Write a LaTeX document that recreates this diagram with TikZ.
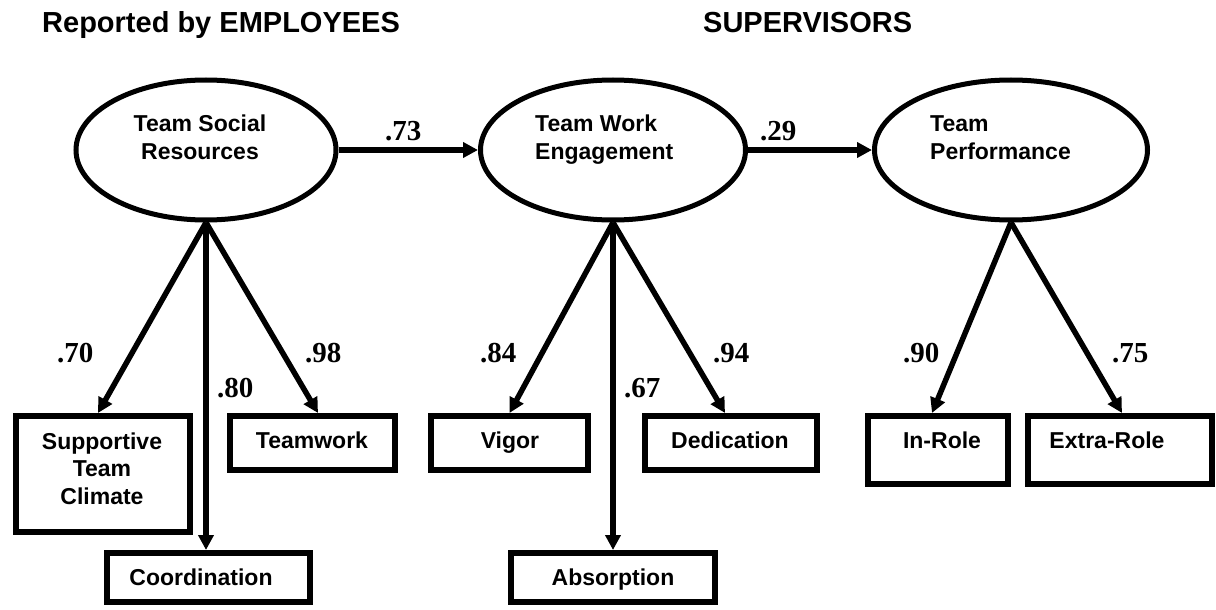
\documentclass[tikz,border=0pt]{standalone}
\usepackage{fontspec}
\setmainfont{Liberation Sans}
\newfontfamily\coeffont{Liberation Serif}
\usetikzlibrary{arrows.meta,shapes.geometric}

\begin{document}
\begin{tikzpicture}[x=1pt,y=-1pt,
  latent/.style={ellipse, draw, line width=5pt, inner sep=0pt, minimum height=140pt},
  indicator/.style={rectangle, draw, line width=6pt, inner sep=0pt},
  heading/.style={font=\fontsize{29}{34}\selectfont\bfseries, inner sep=0pt, anchor=base west},
  nametext/.style={font=\fontsize{23}{27.5}\selectfont\bfseries, inner sep=0pt},
  coef/.style={font=\coeffont\fontsize{29}{34}\selectfont\bfseries, inner sep=0pt, anchor=base west},
  loading/.style={line width=5.5pt, -{Triangle[length=15pt,width=15pt]}}
]
\useasboundingbox (0,0) rectangle (1216,610);

% source headings
\node[heading] (h-emp) at (42,33) {Reported by EMPLOYEES};
\node[heading] (h-sup) at (703,33) {SUPERVISORS};

% latent factors
\node[latent, minimum width=260pt] (tsr) at (206,150) {};
\node[latent, minimum width=265pt] (twe) at (613,150) {};
\node[latent, minimum width=273pt] (tp)  at (1011,150) {};
\node[nametext, align=center, anchor=base] (tsr-t) at (200,159) {Team Social\\Resources};
\node[nametext, align=left, anchor=base west] (twe-t) at (535,159) {Team Work\\Engagement};
\node[nametext, align=left, anchor=base west] (tp-t) at (930,159) {Team\\Performance};

% indicators
\node[indicator, minimum width=174pt, minimum height=116pt] (stc) at (103,474) {};
\node[indicator, minimum width=203pt, minimum height=49pt] (coo) at (208.5,577.5) {};
\node[indicator, minimum width=165pt, minimum height=54pt] (tmw) at (312.5,443) {};
\node[indicator, minimum width=157pt, minimum height=54pt] (vig) at (509.5,443) {};
\node[indicator, minimum width=204pt, minimum height=49pt] (abs) at (613,577.5) {};
\node[indicator, minimum width=172pt, minimum height=54pt] (ded) at (731,443) {};
\node[indicator, minimum width=140pt, minimum height=68pt] (inr) at (938,450) {};
\node[indicator, minimum width=184pt, minimum height=68pt] (exr) at (1120,450) {};

\node[nametext, align=center, anchor=base] (stc-t) at (102,504) {Supportive\\Team\\Climate};
\node[nametext, anchor=base] (coo-t) at (201,585) {Coordination};
\node[nametext, anchor=base] (tmw-t) at (312,448) {Teamwork};
\node[nametext, anchor=base] (vig-t) at (510,448) {Vigor};
\node[nametext, anchor=base] (abs-t) at (613,585) {Absorption};
\node[nametext, anchor=base] (ded-t) at (730,448) {Dedication};
\node[nametext, anchor=base] (inr-t) at (942,448) {In-Role};
\node[nametext, anchor=base] (exr-t) at (1107,448) {Extra-Role};

% structural paths
\draw[loading] (tsr.east) -- (twe.west);
\draw[loading] (twe.east) -- (tp.west);

% factor loadings
\draw[loading] (tsr.south) -- ([xshift=-5pt]stc.north);
\draw[loading] (tsr.south) -- (tsr.south |- coo.north);
\draw[loading] (tsr.south) -- ([xshift=5.5pt]tmw.north);
\draw[loading] (twe.south) -- (vig.north);
\draw[loading] (twe.south) -- (twe.south |- abs.north);
\draw[loading] (twe.south) -- ([xshift=-6pt]ded.north);
\draw[loading] (tp.south) -- ([xshift=-6pt]inr.north);
\draw[loading] (tp.south) -- ([xshift=2pt]exr.north);

% coefficients
\node[coef] (c-73) at (385,140) {.73};
\node[coef] (c-29) at (760,140) {.29};
\node[coef] (c-70) at (57,362) {.70};
\node[coef] (c-80) at (217,397) {.80};
\node[coef] (c-98) at (305,362) {.98};
\node[coef] (c-84) at (480,362) {.84};
\node[coef] (c-67) at (624,397) {.67};
\node[coef] (c-94) at (713,362) {.94};
\node[coef] (c-90) at (903,362) {.90};
\node[coef] (c-75) at (1112,362) {.75};
\end{tikzpicture}
\end{document}
